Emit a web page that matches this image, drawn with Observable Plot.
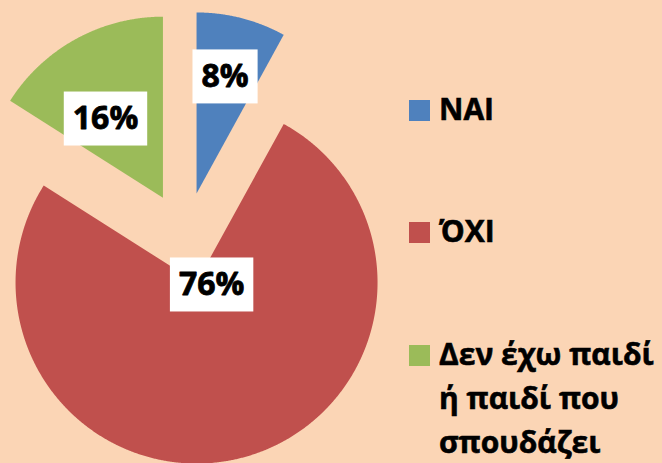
<!DOCTYPE html>
<html>
<head>
<meta charset="utf-8">
<script src="https://cdn.jsdelivr.net/npm/d3@7"></script>
<script src="https://cdn.jsdelivr.net/npm/@observablehq/plot@0.6"></script>
<style>
  html, body { margin: 0; padding: 0; background: #FBD5B5; }
  #wrap { position: relative; width: 662px; height: 463px; overflow: hidden; background: #FBD5B5;
          font-family: "Open Sans", "Noto Sans", sans-serif; }
  #chart { position: absolute; left: 0; top: 0; }
  .item { position: absolute; left: 409px; font-weight: 700; font-size: 30px; line-height: 44px; color: #000;
          -webkit-text-stroke: 0.6px #000; }
  .sw { position: absolute; left: 0; width: 21px; height: 21px; }
  .tx { position: absolute; left: 30px; top: 0; width: 226px; }
</style>
</head>
<body>
<div id="wrap">
  <div id="chart"></div>
  <div id="legend"></div>
</div>
<script>
// ---- data ----
const categories = ["ΝΑΙ", "ΌΧΙ", "Δεν έχω παιδί ή παιδί που σπουδάζει"];
const values = [8, 76, 16];
const labels = ["8%", "76%", "16%"];
const colors = ["#4F81BD", "#C0504D", "#9BBB59"];

// ---- layout (pixels / relative units) ----
const W = 662, H = 463;
const R = 181;               // pie radius in px
const CX = 184.6, CY = 237.5; // pie center in px
const EXPLODE = 46 / R;      // explosion distance (radius units)
// label placement relative to each slice apex: [angle in degrees clockwise from top, distance in radius units]
const labelPolar = [[13.7, 0.665], [97.6, 0.084], [324, 0.54]];
const LABEL_FONT = 32;

const data = categories.map((c, i) => ({cat: c, value: values[i], label: labels[i]}));
const arcs = d3.pie().sort(null).value(d => d.value)(data);

const slicePts = [];
const labelPts = [];
arcs.forEach((p, i) => {
  const mid = (p.startAngle + p.endAngle) / 2;
  const ox = EXPLODE * Math.sin(mid), oy = EXPLODE * Math.cos(mid);
  slicePts.push({cat: p.data.cat, x: ox, y: oy});
  const n = Math.max(2, Math.ceil((p.endAngle - p.startAngle) / 0.005));
  for (let k = 0; k <= n; k++) {
    const a = p.startAngle + (k * (p.endAngle - p.startAngle)) / n;
    slicePts.push({cat: p.data.cat, x: ox + Math.sin(a), y: oy + Math.cos(a)});
  }
  const la = labelPolar[i][0] * Math.PI / 180, lr = labelPolar[i][1];
  labelPts.push({cat: p.data.cat, label: p.data.label, x: ox + lr * Math.sin(la), y: oy + lr * Math.cos(la)});
});

const chart = Plot.plot({
  width: W,
  height: H,
  margin: 0,
  style: {background: "transparent", fontFamily: "'Open Sans', 'Noto Sans', sans-serif"},
  x: {domain: [-CX / R, (W - CX) / R], axis: null},
  y: {domain: [-(H - CY) / R, CY / R], axis: null},
  color: {domain: categories, range: colors},
  marks: [
    Plot.line(slicePts, {x: "x", y: "y", z: "cat", fill: "cat", stroke: "none", curve: "linear-closed"}),
    Plot.text(labelPts, {x: "x", y: "y", text: "label", fontSize: LABEL_FONT, fontWeight: 700,
                         fill: "black", stroke: "black", strokeWidth: 0.8,
                         textAnchor: "middle", lineAnchor: "middle"})
  ]
});
document.getElementById("chart").appendChild(chart);

// white boxes behind the data labels
chart.querySelectorAll('g[aria-label="text"] text').forEach(t => {
  const bb = t.getBBox();
  const cy = bb.y + bb.height / 2 + 0.068 * LABEL_FONT;
  const w = bb.width + 18, h = 54;
  const r = document.createElementNS("http://www.w3.org/2000/svg", "rect");
  r.setAttribute("x", bb.x + bb.width / 2 - w / 2);
  r.setAttribute("y", cy - h / 2);
  r.setAttribute("width", w);
  r.setAttribute("height", h);
  r.setAttribute("fill", "white");
  r.setAttribute("stroke", "none");
  if (t.getAttribute("transform")) r.setAttribute("transform", t.getAttribute("transform"));
  t.parentNode.insertBefore(r, t);
});

// legend
const legendTops = [87, 209, 332];
const legend = document.getElementById("legend");
categories.forEach((c, i) => {
  const item = document.createElement("div");
  item.className = "item";
  item.style.top = legendTops[i] + "px";
  const sw = document.createElement("div");
  sw.className = "sw";
  sw.style.background = colors[i];
  sw.style.top = "13px";
  const tx = document.createElement("div");
  tx.className = "tx";
  tx.textContent = c;
  item.appendChild(sw);
  item.appendChild(tx);
  legend.appendChild(item);
});
</script>
</body>
</html>
